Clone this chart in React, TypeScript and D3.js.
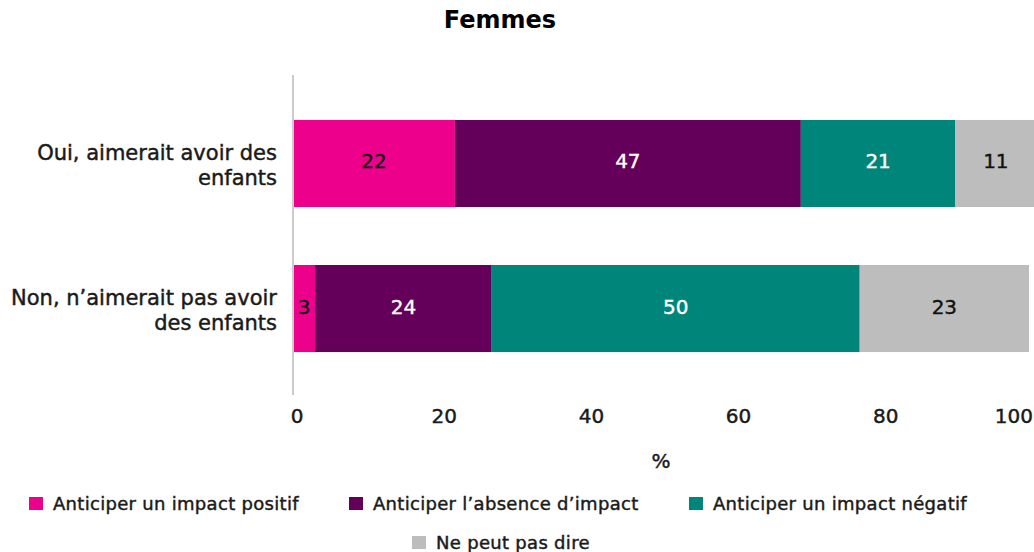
import React from "react";
import * as d3 from "d3";

const categories = ["Oui, aimerait avoir des|enfants", "Non, n’aimerait pas avoir|des enfants"];
const seriesNames = ["Anticiper un impact positif", "Anticiper l’absence d’impact", "Anticiper un impact négatif", "Ne peut pas dire"];
const positif = [22, 3];
const absence = [47, 24];
const negatif = [21, 50];
const nsp = [11, 23];
const xTicks = [0, 20, 40, 60, 80, 100];
const colors = ["#EC008C", "#65005A", "#00857A", "#BDBDBD"];
const labelColors = ["#111", "#fff", "#fff", "#111"];

const W = 1034, H = 552;
const FONT = "'DejaVu Sans', Verdana, sans-serif";

export default function App() {
  const rows = categories.map((c, i) => ({ cat: c, s0: positif[i], s1: absence[i], s2: negatif[i], s3: nsp[i] }));
  const keys = ["s0", "s1", "s2", "s3"];
  const stacked = d3.stack<any>().keys(keys)(rows);
  const x = d3.scaleLinear().domain([0, 100]).range([293, 1029]);
  const y = d3.scaleBand().domain(categories).range([75, 397]).paddingInner(0.4).paddingOuter(0.31);
  const legend = [
    { i: 0, x: 29, y: 503 },
    { i: 1, x: 349, y: 503 },
    { i: 2, x: 689, y: 503 },
    { i: 3, x: 412, y: 542 },
  ];
  const heavy = { stroke: "#1a1a1a", strokeWidth: 0.45 };
  return (
    <svg width={W} height={H} style={{ position: "absolute", left: 0, top: 0, background: "#fff" }} fontFamily={FONT}>
      <text x={500} y={28} textAnchor="middle" fontSize={24} fontWeight="bold" fill="#000">Femmes</text>
      {stacked.map((layer, k) => (
        <g key={k}>
          {layer.map((d, i) => {
            const x0 = x(d[0]), x1 = x(d[1]);
            const cat = categories[i];
            const yy = y(cat)!;
            const v = d[1] - d[0];
            return (
              <g key={i}>
                <rect x={x0} y={yy} width={x1 - x0} height={y.bandwidth()} fill={colors[k]} />
                <text x={(x0 + x1) / 2} y={yy + y.bandwidth() / 2 + 5} textAnchor="middle" fontSize={20} fill={labelColors[k]} stroke={labelColors[k]} strokeWidth={0.4}>{v}</text>
              </g>
            );
          })}
        </g>
      ))}
      <line x1={293} x2={293} y1={75} y2={395} stroke="#cccccc" strokeWidth={2} />
      {categories.map((c) => {
        const lines = c.split("|");
        const cy = y(c)! + y.bandwidth() / 2;
        return (
          <text key={c} textAnchor="end" fontSize={21} fill="#1a1a1a" {...heavy}>
            {lines.map((l, j) => (
              <tspan key={j} x={277} y={cy - 3.5 + j * 25}>{l}</tspan>
            ))}
          </text>
        );
      })}
      {xTicks.map((t) => (
        <text key={t} x={t === 100 ? 1033 : x(t) + 4} y={423} textAnchor={t === 100 ? "end" : "middle"} fontSize={20} fill="#1a1a1a" {...heavy}>{t}</text>
      ))}
      <text x={661} y={468} textAnchor="middle" fontSize={20} fill="#1a1a1a" {...heavy}>%</text>
      {legend.map((l) => (
        <g key={l.i}>
          <rect x={l.x} y={l.y - 6} width={14} height={13} fill={colors[l.i]} />
          <text x={l.x + 24} y={l.y + 7} fontSize={18} letterSpacing={0.3} fill="#1a1a1a" {...heavy}>{seriesNames[l.i]}</text>
        </g>
      ))}
    </svg>
  );
}
